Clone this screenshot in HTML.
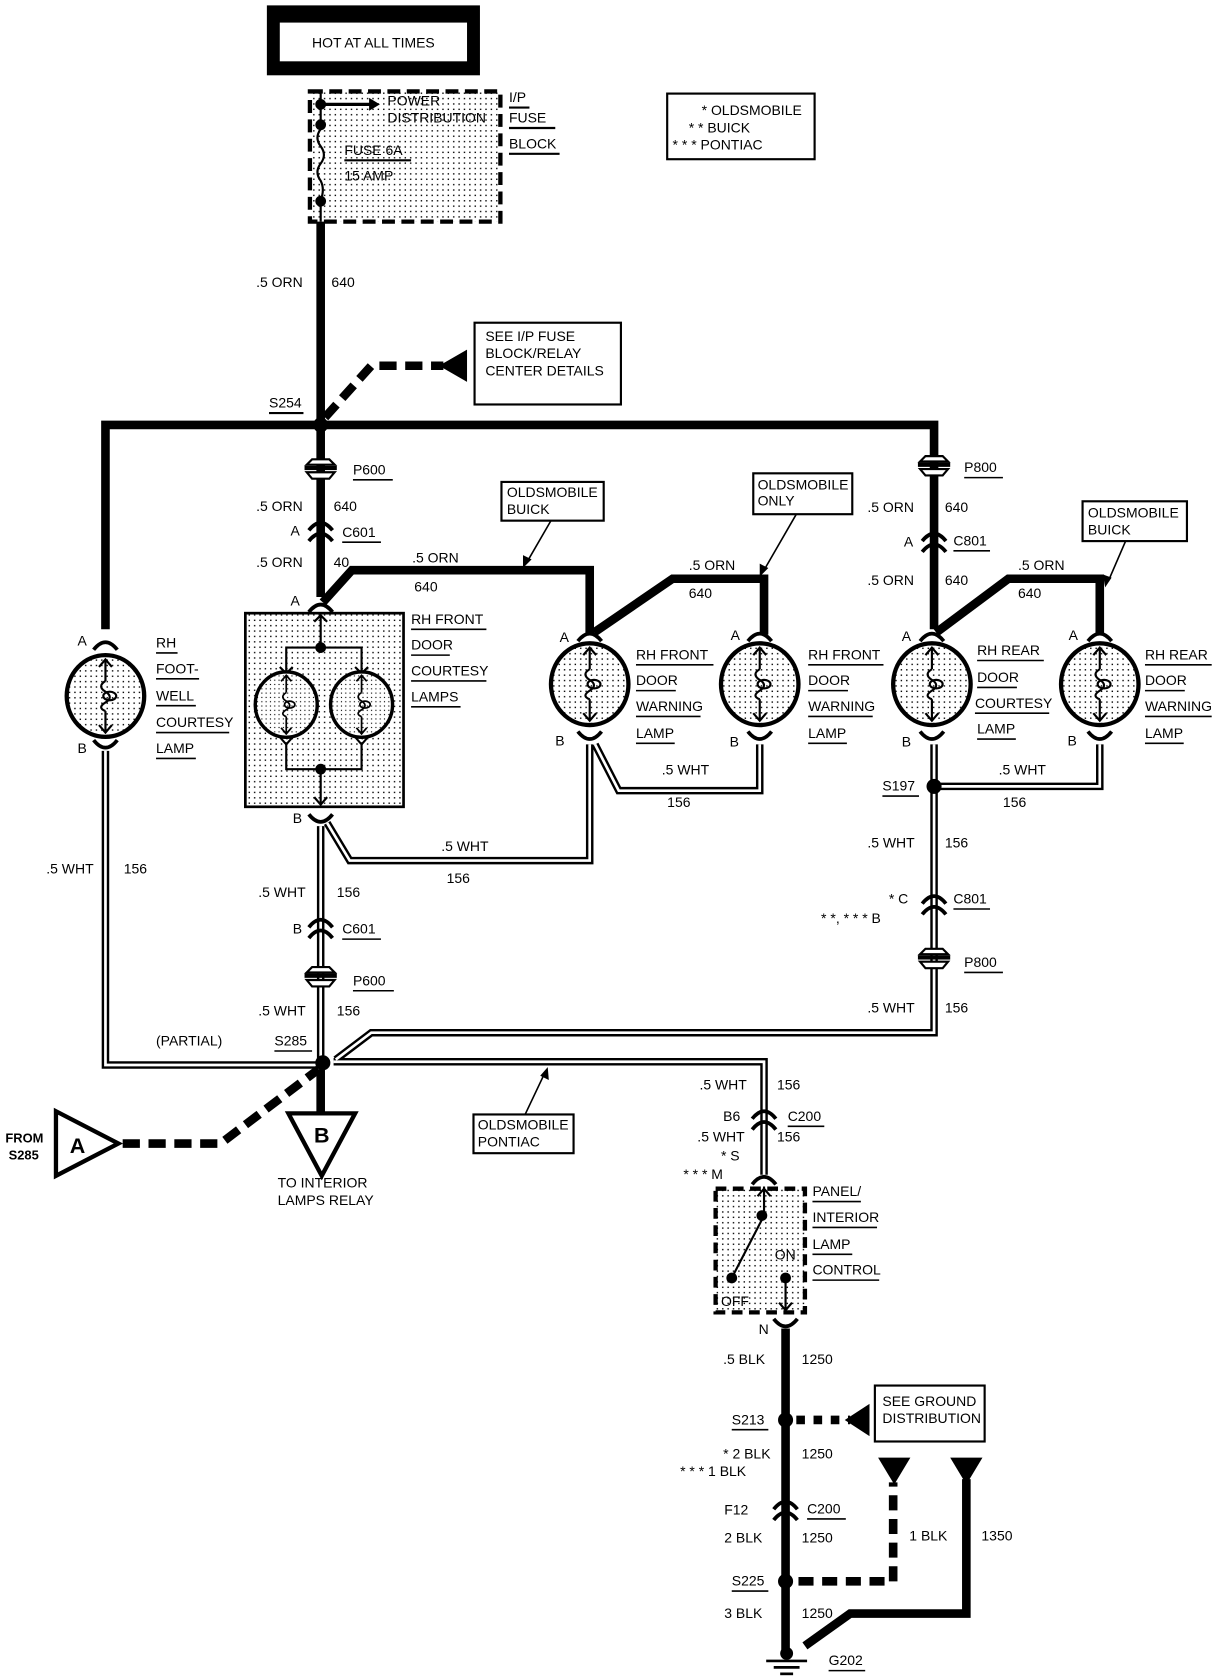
<!DOCTYPE html>
<html><head><meta charset="utf-8"><style>
html,body{margin:0;padding:0;background:#fff}
svg{display:block}
text{font-family:"Liberation Sans",sans-serif;font-size:13px;fill:#000}
</style></head><body>
<svg width="1216" height="1676" viewBox="0 0 1130 1558" preserveAspectRatio="none" xmlns="http://www.w3.org/2000/svg">
<defs>
<pattern id="dots" width="5" height="5" patternUnits="userSpaceOnUse"><rect width="5" height="5" fill="#fff"/><rect x="1" y="1" width="1.3" height="1.3" fill="#000"/></pattern>
<g id="conn"><path d="M-11,0 Q0,-14 11,0" fill="none" stroke="#000" stroke-width="3.5"/><path d="M-11,10 Q0,-4 11,10" fill="none" stroke="#000" stroke-width="3.5"/></g>
<g id="plug"><path d="M-13,-6 L-8,-11 L8,-11 L13,-6 Z" fill="#fff" stroke="#000" stroke-width="2"/><rect x="-15" y="-5" width="30" height="4" fill="#000"/><path d="M-13,1 L13,1 L8,7 L-8,7 Z" fill="#fff" stroke="#000" stroke-width="2"/></g>
<g id="lamp"><ellipse cx="0" cy="0" rx="36" ry="38" fill="url(#dots)" stroke="#000" stroke-width="4"/><path d="M0,-34 V-14 M-6,-27 L0,-34 L6,-27 M0,34 V14 M-6,27 L0,34 L6,27 M0,-14 q-8,5 0,10 q8,5 0,10 q-8,5 0,8" fill="none" stroke="#000" stroke-width="2"/><ellipse cx="4" cy="0" rx="6" ry="4" fill="none" stroke="#000" stroke-width="2"/></g>
<g id="bconn"><path d="M-11,-6 Q0,8 11,-6" fill="none" stroke="#000" stroke-width="3.5"/></g>
<g id="aconn"><path d="M-11,6 Q0,-8 11,6" fill="none" stroke="#000" stroke-width="3.5"/></g>
</defs>

<rect x="248" y="5" width="198" height="65" fill="#000"/>
<rect x="260" y="21" width="174" height="36" fill="#fff"/>
<text x="347" y="44" text-anchor="middle">HOT AT ALL TIMES</text>

<rect x="288" y="85" width="177" height="121" fill="url(#dots)" stroke="#000" stroke-width="4" stroke-dasharray="12,6"/>
<line x1="298" y1="85" x2="298" y2="120" stroke="#000" stroke-width="2"/>
<path d="M298,120 q-6,8 0,16 q6,8 0,16 q-6,8 0,16 q4,8 0,18" fill="none" stroke="#000" stroke-width="2"/>
<line x1="298" y1="184" x2="298" y2="206" stroke="#000" stroke-width="2"/>
<circle cx="298" cy="97" r="5"/><circle cx="298" cy="116" r="5"/><circle cx="298" cy="187" r="5"/>
<line x1="298" y1="97" x2="345" y2="97" stroke="#000" stroke-width="3"/><path d="M343,91 L353,97 L343,103 Z"/>
<text x="360" y="98">POWER</text><text x="360" y="114">DISTRIBUTION</text>
<text x="320" y="144">FUSE 6A</text><line x1="320" y1="149" x2="382" y2="149" stroke="#000" stroke-width="2"/>
<text x="320" y="168">15 AMP</text>
<text x="473" y="95">I/P</text><line x1="473" y1="100" x2="492" y2="100" stroke="#000" stroke-width="2"/>
<text x="473" y="114">FUSE</text><line x1="473" y1="119" x2="516" y2="119" stroke="#000" stroke-width="2"/>
<text x="473" y="138">BLOCK</text><line x1="473" y1="143" x2="520" y2="143" stroke="#000" stroke-width="2"/>

<rect x="620" y="87" width="137" height="61" fill="#fff" stroke="#000" stroke-width="2"/>
<text x="652" y="107">* OLDSMOBILE</text><text x="640" y="123">* * BUICK</text><text x="625" y="139">* * * PONTIAC</text>

<g stroke="#000" stroke-width="8" fill="none">
<line x1="298" y1="206" x2="298" y2="555"/>
<polyline points="98,585 98,395 868,395 868,585"/>
<polyline points="300,560 327,530 548,530 548,590"/>
<polyline points="552,588 625,538 710,538 710,590"/>
<polyline points="870,588 937,538 1022,538 1022,590"/>
<line x1="730" y1="1235" x2="730" y2="1535"/>
<polyline points="898,1375 898,1500 790,1500 748,1530"/>
</g>
<text x="238" y="267">.5 ORN</text><text x="308" y="267">640</text>

<rect x="441" y="300" width="136" height="76" fill="#fff" stroke="#000" stroke-width="2"/>
<text x="451" y="317">SEE I/P FUSE</text><text x="451" y="333">BLOCK/RELAY</text><text x="451" y="349">CENTER DETAILS</text>
<polyline points="302,388 345,340 412,340" fill="none" stroke="#000" stroke-width="8" stroke-dasharray="16,8"/>
<path d="M408,340 L434,325 L434,355 Z"/>
<text x="250" y="379">S254</text><line x1="250" y1="384" x2="282" y2="384" stroke="#000" stroke-width="2"/>
<circle cx="298" cy="395" r="7"/>

<use href="#plug" x="298" y="438"/>
<text x="328" y="441">P600</text><line x1="328" y1="446" x2="365" y2="446" stroke="#000" stroke-width="1.5"/>
<text x="238" y="475">.5 ORN</text><text x="310" y="475">640</text>
<use href="#conn" x="298" y="493"/><text x="270" y="498">A</text>
<text x="318" y="499">C601</text><line x1="318" y1="504" x2="354" y2="504" stroke="#000" stroke-width="1.5"/>
<text x="238" y="527">.5 ORN</text><text x="310" y="527">40</text>
<text x="383" y="523">.5 ORN</text><text x="385" y="550">640</text>
<rect x="466" y="448" width="95" height="36" fill="#fff" stroke="#000" stroke-width="2"/>
<text x="471" y="462">OLDSMOBILE</text><text x="471" y="478">BUICK</text>
<line x1="512" y1="484" x2="490" y2="522" stroke="#000" stroke-width="1.5"/><path d="M486,528 L486,516 L494,520 Z"/>
<text x="640" y="530">.5 ORN</text><text x="640" y="556">640</text>
<rect x="700" y="440" width="92" height="38" fill="#fff" stroke="#000" stroke-width="2"/>
<text x="704" y="455">OLDSMOBILE</text><text x="704" y="470">ONLY</text>
<line x1="740" y1="478" x2="710" y2="530" stroke="#000" stroke-width="1.5"/><path d="M706,536 L706,524 L714,528 Z"/>

<use href="#plug" x="868" y="435"/>
<text x="896" y="439">P800</text><line x1="896" y1="444" x2="932" y2="444" stroke="#000" stroke-width="1.5"/>
<text x="806" y="476">.5 ORN</text><text x="878" y="476">640</text>
<use href="#conn" x="868" y="503"/><text x="840" y="508">A</text>
<text x="886" y="507">C801</text><line x1="886" y1="512" x2="920" y2="512" stroke="#000" stroke-width="1.5"/>
<text x="806" y="544">.5 ORN</text><text x="878" y="544">640</text>
<text x="946" y="530">.5 ORN</text><text x="946" y="556">640</text>
<rect x="1006" y="466" width="97" height="37" fill="#fff" stroke="#000" stroke-width="2"/>
<text x="1011" y="481">OLDSMOBILE</text><text x="1011" y="497">BUICK</text>
<line x1="1046" y1="503" x2="1030" y2="540" stroke="#000" stroke-width="1.5"/><path d="M1027,546 L1025,534 L1033,537 Z"/>

<use href="#lamp" x="98" y="647"/>
<use href="#lamp" x="548" y="636"/>
<use href="#lamp" x="706" y="636"/>
<use href="#lamp" x="866" y="636"/>
<use href="#lamp" x="1022" y="636"/>
<use href="#aconn" x="98" y="598"/><text x="72" y="600">A</text>
<use href="#bconn" x="98" y="694"/><text x="72" y="700">B</text>
<use href="#aconn" x="298" y="563"/><text x="270" y="563">A</text>
<use href="#aconn" x="548" y="590"/><text x="520" y="597">A</text>
<use href="#aconn" x="706" y="590"/><text x="679" y="595">A</text>
<use href="#aconn" x="866" y="590"/><text x="838" y="596">A</text>
<use href="#aconn" x="1022" y="590"/><text x="993" y="595">A</text>
<use href="#bconn" x="548" y="686"/><text x="516" y="693">B</text>
<use href="#bconn" x="706" y="686"/><text x="678" y="694">B</text>
<use href="#bconn" x="866" y="686"/><text x="838" y="694">B</text>
<use href="#bconn" x="1022" y="686"/><text x="992" y="693">B</text>
<use href="#bconn" x="298" y="763"/><text x="272" y="765">B</text>

<rect x="228" y="570" width="147" height="180" fill="url(#dots)" stroke="#000" stroke-width="2.5"/>
<g stroke="#000" stroke-width="2" fill="none">
<path d="M298,572 V602 M292,578 L298,572 L304,578"/>
<polyline points="266,625 266,602 336,602 336,625"/>
<path d="M260,620 L266,626 L272,620 M330,620 L336,626 L342,620"/>
<polyline points="266,690 266,715 336,715 336,690"/>
<path d="M259,684 L266,692 L273,684 M329,684 L336,692 L343,684"/>
<path d="M298,715 V748 M292,741 L298,748 L304,741"/>
</g>
<circle cx="298" cy="602" r="5"/><circle cx="298" cy="715" r="5"/>
<g transform="translate(266,655) scale(0.8)"><use href="#lamp"/></g>
<g transform="translate(336,655) scale(0.8)"><use href="#lamp"/></g>

<g>
<text x="145" y="602">RH</text><line x1="145" y1="607" x2="165" y2="607" stroke="#000" stroke-width="1.5"/>
<text x="145" y="626">FOOT-</text><line x1="145" y1="631" x2="185" y2="631" stroke="#000" stroke-width="1.5"/>
<text x="145" y="651">WELL</text><line x1="145" y1="656" x2="182" y2="656" stroke="#000" stroke-width="1.5"/>
<text x="145" y="676">COURTESY</text><line x1="145" y1="681" x2="213" y2="681" stroke="#000" stroke-width="1.5"/>
<text x="145" y="700">LAMP</text><line x1="145" y1="705" x2="182" y2="705" stroke="#000" stroke-width="1.5"/>

<text x="382" y="580">RH FRONT</text><line x1="382" y1="585" x2="452" y2="585" stroke="#000" stroke-width="1.5"/>
<text x="382" y="604">DOOR</text><line x1="382" y1="609" x2="418" y2="609" stroke="#000" stroke-width="1.5"/>
<text x="382" y="628">COURTESY</text><line x1="382" y1="633" x2="452" y2="633" stroke="#000" stroke-width="1.5"/>
<text x="382" y="652">LAMPS</text><line x1="382" y1="657" x2="428" y2="657" stroke="#000" stroke-width="1.5"/>

<text x="591" y="613">RH FRONT</text><line x1="591" y1="618" x2="663" y2="618" stroke="#000" stroke-width="1.5"/>
<text x="591" y="637">DOOR</text><line x1="591" y1="642" x2="628" y2="642" stroke="#000" stroke-width="1.5"/>
<text x="591" y="661">WARNING</text><line x1="591" y1="666" x2="651" y2="666" stroke="#000" stroke-width="1.5"/>
<text x="591" y="686">LAMP</text><line x1="591" y1="691" x2="627" y2="691" stroke="#000" stroke-width="1.5"/>

<text x="751" y="613">RH FRONT</text><line x1="751" y1="618" x2="821" y2="618" stroke="#000" stroke-width="1.5"/>
<text x="751" y="637">DOOR</text><line x1="751" y1="642" x2="788" y2="642" stroke="#000" stroke-width="1.5"/>
<text x="751" y="661">WARNING</text><line x1="751" y1="666" x2="811" y2="666" stroke="#000" stroke-width="1.5"/>
<text x="751" y="686">LAMP</text><line x1="751" y1="691" x2="787" y2="691" stroke="#000" stroke-width="1.5"/>

<text x="908" y="609">RH REAR</text><line x1="908" y1="614" x2="970" y2="614" stroke="#000" stroke-width="1.5"/>
<text x="908" y="634">DOOR</text><line x1="908" y1="639" x2="945" y2="639" stroke="#000" stroke-width="1.5"/>
<text x="906" y="658">COURTESY</text><line x1="906" y1="663" x2="975" y2="663" stroke="#000" stroke-width="1.5"/>
<text x="908" y="682">LAMP</text><line x1="908" y1="687" x2="944" y2="687" stroke="#000" stroke-width="1.5"/>

<text x="1064" y="613">RH REAR</text><line x1="1064" y1="618" x2="1126" y2="618" stroke="#000" stroke-width="1.5"/>
<text x="1064" y="637">DOOR</text><line x1="1064" y1="642" x2="1101" y2="642" stroke="#000" stroke-width="1.5"/>
<text x="1064" y="661">WARNING</text><line x1="1064" y1="666" x2="1126" y2="666" stroke="#000" stroke-width="1.5"/>
<text x="1064" y="686">LAMP</text><line x1="1064" y1="691" x2="1100" y2="691" stroke="#000" stroke-width="1.5"/>
</g>

<g fill="none" stroke-linejoin="miter">
<g stroke="#000" stroke-width="7">
<polyline points="98,698 98,990 298,990"/>
<line x1="298" y1="768" x2="298" y2="985"/>
<polyline points="304,765 325,800 548,800 548,692"/>
<polyline points="553,692 575,735 706,735 706,692"/>
<polyline points="868,692 868,960 345,960 312,985"/>
<polyline points="868,731 1022,731 1022,692"/>
<polyline points="310,987 710,987 710,1092"/>
</g>
<g stroke="#fff" stroke-width="2.5">
<polyline points="98,698 98,990 298,990"/>
<line x1="298" y1="768" x2="298" y2="985"/>
<polyline points="304,765 325,800 548,800 548,692"/>
<polyline points="553,692 575,735 706,735 706,692"/>
<polyline points="868,692 868,960 345,960 312,985"/>
<polyline points="868,731 1022,731 1022,692"/>
<polyline points="310,987 710,987 710,1092"/>
</g>
</g>
<circle cx="868" cy="731" r="7"/>
<text x="820" y="735">S197</text><line x1="820" y1="740" x2="854" y2="740" stroke="#000" stroke-width="1.5"/>
<text x="928" y="720">.5 WHT</text><text x="932" y="750">156</text>
<text x="615" y="720">.5 WHT</text><text x="620" y="750">156</text>
<text x="410" y="791">.5 WHT</text><text x="415" y="821">156</text>
<text x="43" y="812">.5 WHT</text><text x="115" y="812">156</text>
<text x="806" y="788">.5 WHT</text><text x="878" y="788">156</text>
<use href="#conn" x="868" y="840"/>
<text x="826" y="840">* C</text><text x="763" y="858">* *, * * * B</text>
<text x="886" y="840">C801</text><line x1="886" y1="845" x2="920" y2="845" stroke="#000" stroke-width="1.5"/>
<use href="#plug" x="868" y="893"/>
<text x="896" y="899">P800</text><line x1="896" y1="904" x2="932" y2="904" stroke="#000" stroke-width="1.5"/>
<text x="806" y="941">.5 WHT</text><text x="878" y="941">156</text>

<text x="240" y="834">.5 WHT</text><text x="313" y="834">156</text>
<use href="#conn" x="298" y="862"/><text x="272" y="868">B</text>
<text x="318" y="868">C601</text><line x1="318" y1="873" x2="354" y2="873" stroke="#000" stroke-width="1.5"/>
<use href="#plug" x="298" y="910"/>
<text x="328" y="916">P600</text><line x1="328" y1="921" x2="366" y2="921" stroke="#000" stroke-width="1.5"/>
<text x="240" y="944">.5 WHT</text><text x="313" y="944">156</text>
<text x="145" y="972">(PARTIAL)</text>
<text x="255" y="972">S285</text><line x1="255" y1="977" x2="290" y2="977" stroke="#000" stroke-width="1.5"/>
<circle cx="300" cy="988" r="7"/>

<line x1="298" y1="994" x2="298" y2="1035" stroke="#000" stroke-width="8"/>
<path d="M268,1035 L330,1035 L299,1093 Z" fill="#fff" stroke="#000" stroke-width="4"/>
<text x="299" y="1062" text-anchor="middle" style="font-size:20px;font-weight:bold">B</text>
<text x="258" y="1104">TO INTERIOR</text><text x="258" y="1120">LAMPS RELAY</text>
<path d="M52,1033 L110,1063 L52,1093 Z" fill="#fff" stroke="#000" stroke-width="4"/>
<text x="72" y="1072" text-anchor="middle" style="font-size:20px;font-weight:bold">A</text>
<text x="5" y="1062" style="font-size:12px;font-weight:bold">FROM</text><text x="8" y="1078" style="font-size:12px;font-weight:bold">S285</text>
<polyline points="114,1063 205,1063 296,994" fill="none" stroke="#000" stroke-width="8" stroke-dasharray="16,8"/>

<rect x="440" y="1036" width="93" height="36" fill="#fff" stroke="#000" stroke-width="2"/>
<text x="444" y="1050">OLDSMOBILE</text><text x="444" y="1066">PONTIAC</text>
<line x1="488" y1="1036" x2="506" y2="998" stroke="#000" stroke-width="1.5"/><path d="M509,992 L510,1004 L502,1000 Z"/>

<text x="650" y="1013">.5 WHT</text><text x="722" y="1013">156</text>
<use href="#conn" x="710" y="1040"/>
<text x="672" y="1042">B6</text>
<text x="732" y="1042">C200</text><line x1="732" y1="1047" x2="766" y2="1047" stroke="#000" stroke-width="1.5"/>
<text x="648" y="1061">.5 WHT</text><text x="722" y="1061">156</text>
<text x="670" y="1079">* S</text><text x="635" y="1096">* * * M</text>
<use href="#aconn" x="710" y="1095"/>
<rect x="665" y="1105" width="83" height="115" fill="url(#dots)" stroke="#000" stroke-width="4" stroke-dasharray="10,6"/>
<path d="M710,1103 V1130 L680,1188 M704,1112 L710,1105 L716,1112 M730,1188 V1218 M724,1211 L730,1218 L736,1211" fill="none" stroke="#000" stroke-width="2"/>
<circle cx="708" cy="1130" r="5"/><circle cx="680" cy="1188" r="5"/><circle cx="730" cy="1188" r="5"/>
<text x="720" y="1171">ON</text><text x="670" y="1214">OFF</text>
<text x="755" y="1112">PANEL/</text><line x1="755" y1="1117" x2="800" y2="1117" stroke="#000" stroke-width="1.5"/>
<text x="755" y="1136">INTERIOR</text><line x1="755" y1="1141" x2="815" y2="1141" stroke="#000" stroke-width="1.5"/>
<text x="755" y="1161">LAMP</text><line x1="755" y1="1166" x2="792" y2="1166" stroke="#000" stroke-width="1.5"/>
<text x="755" y="1185">CONTROL</text><line x1="755" y1="1190" x2="817" y2="1190" stroke="#000" stroke-width="1.5"/>
<use href="#bconn" x="730" y="1232"/><text x="705" y="1240">N</text>

<text x="672" y="1268">.5 BLK</text><text x="745" y="1268">1250</text>
<circle cx="730" cy="1320" r="7"/>
<text x="680" y="1324">S213</text><line x1="680" y1="1329" x2="714" y2="1329" stroke="#000" stroke-width="1.5"/>
<polyline points="740,1320 790,1320" fill="none" stroke="#000" stroke-width="8" stroke-dasharray="8,8"/>
<path d="M785,1320 L808,1305 L808,1335 Z"/>
<rect x="813" y="1288" width="102" height="52" fill="#fff" stroke="#000" stroke-width="2"/>
<text x="820" y="1307">SEE GROUND</text><text x="820" y="1323">DISTRIBUTION</text>
<text x="672" y="1356">* 2 BLK</text><text x="632" y="1372">* * * 1 BLK</text><text x="745" y="1356">1250</text>
<use href="#conn" x="730" y="1403"/>
<text x="673" y="1408">F12</text>
<text x="750" y="1407">C200</text><line x1="750" y1="1412" x2="786" y2="1412" stroke="#000" stroke-width="1.5"/>
<text x="673" y="1434">2 BLK</text><text x="745" y="1434">1250</text>
<circle cx="730" cy="1470" r="7"/>
<text x="680" y="1474">S225</text><line x1="680" y1="1479" x2="714" y2="1479" stroke="#000" stroke-width="1.5"/>
<polyline points="742,1470 830,1470 830,1378" fill="none" stroke="#000" stroke-width="8" stroke-dasharray="14,8"/>
<path d="M816,1355 L846,1355 L831,1380 Z"/>
<path d="M883,1355 L913,1355 L898,1380 Z"/>
<text x="845" y="1432">1 BLK</text><text x="912" y="1432">1350</text>
<text x="673" y="1504">3 BLK</text><text x="745" y="1504">1250</text>
<circle cx="731" cy="1537" r="6"/>
<line x1="712" y1="1544" x2="750" y2="1544" stroke="#000" stroke-width="2.5"/>
<line x1="719" y1="1550" x2="743" y2="1550" stroke="#000" stroke-width="2.5"/>
<line x1="725" y1="1556" x2="737" y2="1556" stroke="#000" stroke-width="2.5"/>
<text x="770" y="1548">G202</text><line x1="770" y1="1553" x2="804" y2="1553" stroke="#000" stroke-width="1.5"/>
</svg>
</body></html>
